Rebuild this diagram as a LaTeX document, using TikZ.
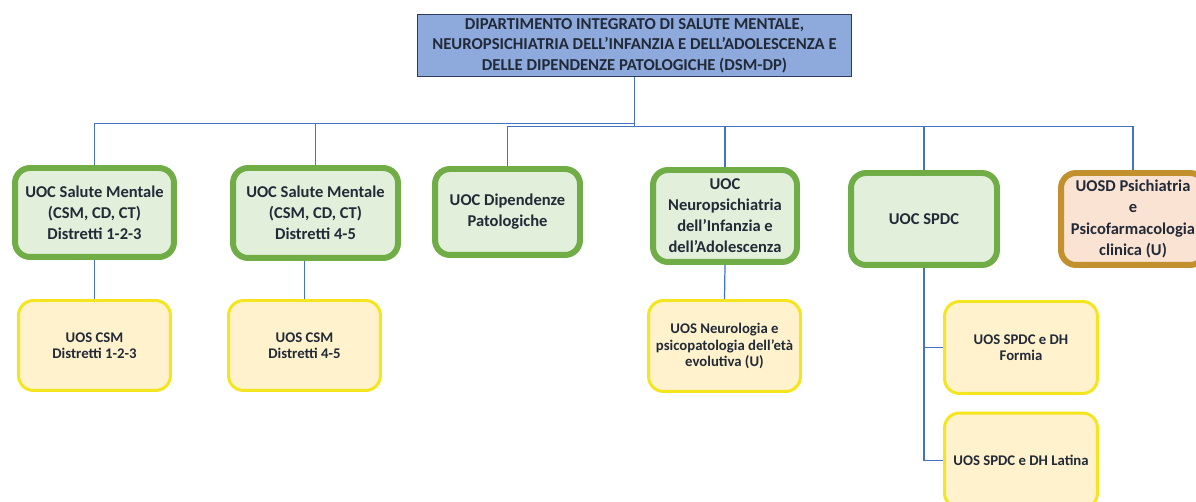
\documentclass[tikz,border=0pt]{standalone}
\usepackage{fontspec}
\setmainfont{Carlito}
\definecolor{dipfill}{HTML}{8EA9DB}
\definecolor{dipline}{HTML}{2F3B5C}
\definecolor{uocline}{HTML}{70AD47}
\definecolor{uocfill}{HTML}{E2EFDA}
\definecolor{uosdline}{HTML}{C3902E}
\definecolor{uosdfill}{HTML}{FBE3D4}
\definecolor{uosline}{HTML}{F5E51E}
\definecolor{uosfill}{HTML}{FFF2CC}
\definecolor{linkcol}{HTML}{4472C4}
\definecolor{txt}{HTML}{222A38}
\begin{document}
\begin{tikzpicture}[x=0.02cm,y=-0.02cm,
    dip/.style={draw=dipline,line width=0.8pt,fill=dipfill,inner sep=0pt,
      minimum width=8.68cm,minimum height=1.24cm,align=center,text=txt,
      font=\fontsize{9.5}{11.6}\selectfont\bfseries},
    uoc/.style={draw=uocline,line width=3.4pt,fill=uocfill,rounded corners=0.3cm,
      inner sep=0pt,minimum width=2.9cm,minimum height=1.84cm,align=center,text=txt,
      font=\fontsize{9.4}{12}\selectfont\bfseries},
    uosd/.style={uoc,draw=uosdline,fill=uosdfill},
    uos/.style={draw=uosline,line width=1.7pt,fill=uosfill,rounded corners=0.3cm,
      inner sep=0pt,minimum width=3.04cm,minimum height=1.82cm,align=center,text=txt,
      font=\fontsize{8.4}{9.4}\selectfont\bfseries},
    link/.style={draw=linkcol,line width=0.7pt}]
\useasboundingbox (0,0) rectangle (1196,502);
\clip (0,0) rectangle (1196,502);

% department
\node[dip] (dsm) at (634.5,45.5) {DIPARTIMENTO INTEGRATO DI SALUTE MENTALE,\\
  NEUROPSICHIATRIA DELL’INFANZIA E DELL’ADOLESCENZA E\\
  DELLE DIPENDENZE PATOLOGICHE (DSM-DP)};

% UOC level
\node[uoc,minimum width=3.18cm,minimum height=1.78cm] (smA) at (94.5,212.5)
  {UOC Salute Mentale\\(CSM, CD, CT)\\Distretti 1-2-3};
\node[uoc,minimum width=3.3cm,minimum height=1.8cm] (smB) at (315.5,213)
  {UOC Salute Mentale\\(CSM, CD, CT)\\Distretti 4-5};
\node[uoc,minimum height=1.72cm] (dip) at (507.5,212) {UOC Dipendenze\\Patologiche};
\node[uoc,minimum width=2.88cm] (npi) at (725,216)
  {UOC\\Neuropsichiatria\\dell’Infanzia e\\dell’Adolescenza};
\node[uoc,minimum width=2.92cm] (spdc) at (924,219) {UOC SPDC};
\node[uosd,minimum width=2.88cm] (psi) at (1133,219)
  {UOSD Psichiatria\\e\\Psicofarmacologia\\clinica (U)};

% UOS level
\node[uos,minimum height=1.8cm] (csmA) at (94.5,345.5) {UOS CSM\\Distretti 1-2-3};
\node[uos,minimum height=1.8cm] (csmB) at (304.5,345.5) {UOS CSM\\Distretti 4-5};
\node[uos] (neuro) at (724.5,346)
  {UOS Neurologia e\\psicopatologia dell’età\\evolutiva (U)};
\node[uos,minimum width=3.06cm,minimum height=1.84cm] (spdcF) at (1021,347.5)
  {UOS SPDC e DH\\Formia};
\node[uos,minimum width=3.06cm,minimum height=1.9cm] (spdcL) at (1021,460.5)
  {UOS SPDC e DH Latina};

% connectors
\path (dsm.south) ++(0,46) coordinate (busL) ++(0,3) coordinate (busR);
\draw[link] (dsm.south) -- (busR);
\foreach \n in {smA,smB}
  \draw[link] (\n.north) |- (busL);
\foreach \n in {dip,npi,spdc,psi}
  \draw[link] (\n.north) |- (busR);
\draw[link] (smA.south) -- (csmA.north);
\draw[link] (csmB.north) -- (csmB.north |- smB.south);
\draw[link] (npi.south) -- (neuro.north);
\draw[link] (spdc.south) |- (spdcF.west);
\draw[link] (spdc.south) |- (spdcL.west);
\end{tikzpicture}
\end{document}
